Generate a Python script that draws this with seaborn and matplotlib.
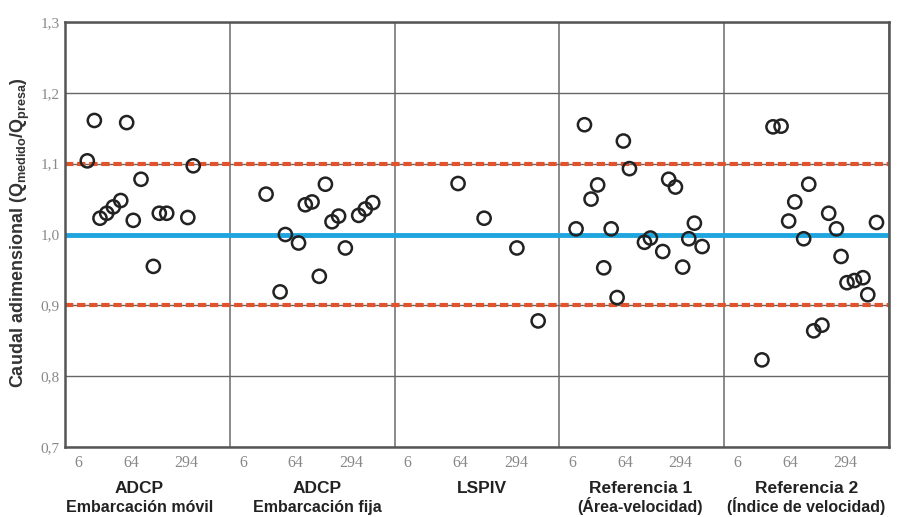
import numpy as np
import pandas as pd
import matplotlib.pyplot as plt
import matplotlib.transforms as mtransforms
import seaborn as sns

# nombres de los métodos (dos líneas bajo cada panel)
method_names = ['ADCP', 'ADCP', 'LSPIV', 'Referencia 1', 'Referencia 2']
method_notes = ['Embarcación móvil', 'Embarcación fija', '', '(Área-velocidad)', '(Índice de velocidad)']

# posición relativa dentro de cada panel (0-1) y caudal adimensional Qmedido/Qpresa
adcp_movil_x = [0.135, 0.178, 0.374, 0.778, 0.461, 0.212, 0.253, 0.293, 0.338,
                0.414, 0.572, 0.617, 0.745, 0.536]
adcp_movil_q = [1.104, 1.161, 1.158, 1.097, 1.078, 1.023, 1.030, 1.039, 1.048,
                1.020, 1.030, 1.030, 1.024, 0.955]

adcp_fija_x = [0.220, 0.580, 0.458, 0.499, 0.620, 0.660, 0.782, 0.822, 0.867,
               0.337, 0.417, 0.701, 0.543, 0.305]
adcp_fija_q = [1.057, 1.071, 1.042, 1.046, 1.018, 1.026, 1.027, 1.036, 1.045,
               1.000, 0.988, 0.981, 0.941, 0.919]

lspiv_x = [0.385, 0.543, 0.742, 0.871]
lspiv_q = [1.072, 1.023, 0.981, 0.878]

ref1_x = [0.152, 0.388, 0.425, 0.232, 0.192, 0.663, 0.704, 0.101, 0.314,
          0.516, 0.552, 0.627, 0.819, 0.785, 0.866, 0.269, 0.748, 0.350]
ref1_q = [1.155, 1.132, 1.093, 1.070, 1.050, 1.078, 1.067, 1.008, 1.008,
          0.989, 0.995, 0.976, 1.016, 0.994, 0.983, 0.953, 0.954, 0.911]

ref2_x = [0.296, 0.345, 0.513, 0.428, 0.391, 0.482, 0.634, 0.681, 0.709,
          0.745, 0.790, 0.842, 0.871, 0.924, 0.543, 0.593, 0.229]
ref2_q = [1.152, 1.153, 1.071, 1.046, 1.019, 0.994, 1.030, 1.008, 0.969,
          0.932, 0.935, 0.939, 0.915, 1.017, 0.864, 0.872, 0.823]

# etiquetas del eje x dentro de cada panel
sub_ticks = [0.08, 0.40, 0.735]
sub_labels = ['6', '64', '294']

y_ticks = [0.7, 0.8, 0.9, 1.0, 1.1, 1.2, 1.3]
y_labels = ['0,7', '0,8', '0,9', '1,0', '1,1', '1,2', '1,3']

groups = [(adcp_movil_x, adcp_movil_q), (adcp_fija_x, adcp_fija_q), (lspiv_x, lspiv_q),
          (ref1_x, ref1_q), (ref2_x, ref2_q)]
rows = []
for i, (xs, qs) in enumerate(groups):
    for x, q in zip(xs, qs):
        rows.append({'pos': i + x, 'q': q, 'metodo': method_names[i]})
df = pd.DataFrame(rows)

sns.set_theme(style='white')
plt.rcParams['font.family'] = ['Liberation Sans', 'DejaVu Sans']

fig = plt.figure(figsize=(8.97, 5.17), dpi=100)
ax = fig.add_axes([0.0725, 0.1354, 0.9186, 0.822])

ax.axhline(1.0, color='#1fa5de', lw=3.5, zorder=2)
for yv in (0.9, 1.1):
    ax.axhline(yv, color='#e0532c', lw=3, dashes=(2.0, 0.9), zorder=2)

sns.scatterplot(data=df, x='pos', y='q', ax=ax, s=90, facecolor='none',
                edgecolor='#222222', linewidth=1.8, zorder=3, legend=False)

ax.set_xlim(0, 5)
ax.set_ylim(0.7, 1.3)
ax.set_yticks(y_ticks)
ax.set_yticklabels(y_labels, family='Liberation Serif', fontsize=11, color='#888888')
ax.yaxis.grid(True, color='#666666', lw=1.0)

ax.set_xticks(range(6))
ax.set_xticklabels([''] * 6)
ax.xaxis.grid(True, color='#777777', lw=1.2)
minor_pos = [i + t for i in range(5) for t in sub_ticks]
ax.set_xticks(minor_pos, minor=True)
ax.set_xticklabels(sub_labels * 5, minor=True, family='Liberation Serif',
                   fontsize=11.5, color='#888888')
ax.tick_params(axis='x', which='minor', length=0, pad=6)
ax.tick_params(axis='x', which='major', length=7, color='#bbbbbb', direction='out')
ax.tick_params(axis='y', length=0, pad=4)
ax.set_xlabel('')
ax.set_ylabel('')
for sp in ax.spines.values():
    sp.set_color('#555555')
    sp.set_linewidth(1.8)

trans = mtransforms.blended_transform_factory(ax.transData, fig.transFigure)
label_pos = [0.45, 1.53, 2.53, 3.49, 4.5]
for i in range(5):
    fig.text(label_pos[i], 0.047, method_names[i], transform=trans, ha='center',
             va='baseline', fontsize=12.5, fontweight='bold', color='#222222')
    fig.text(label_pos[i], 0.01, method_notes[i], transform=trans, ha='center',
             va='baseline', fontsize=11.5, fontweight='bold', color='#222222')

fig.text(20 / 897, 0.55,
         r'Caudal adimensional (Q$\mathregular{_{medido}}$/Q$\mathregular{_{presa}}$)',
         rotation=90, ha='center', va='center', fontsize=13, fontweight='bold',
         color='#333333')

fig.savefig('out.png', dpi=100)
